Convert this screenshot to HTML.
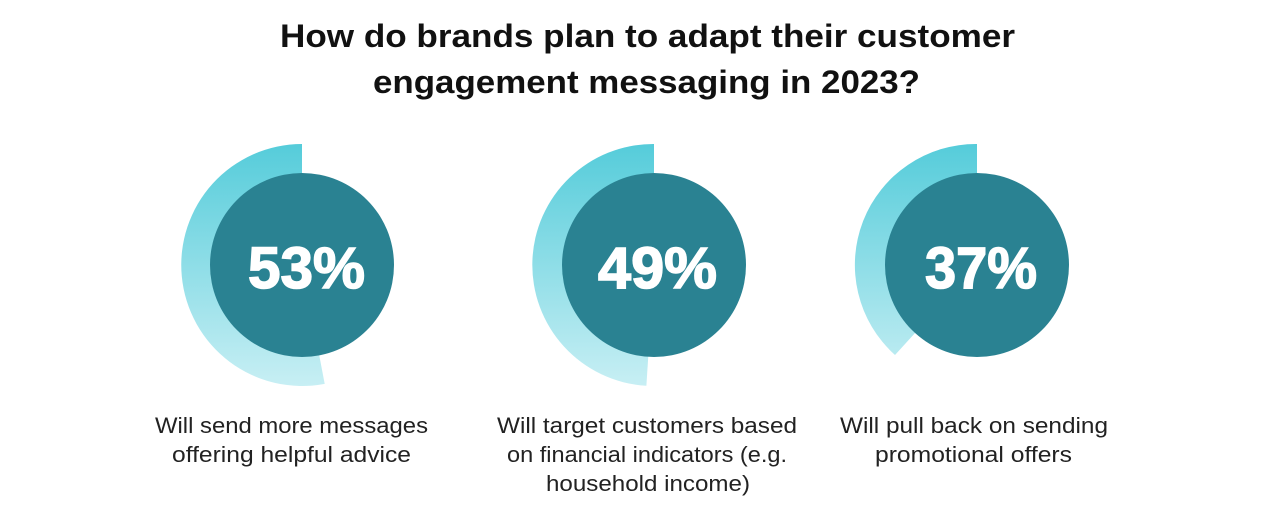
<!DOCTYPE html>
<html><head><meta charset="utf-8"><style>
body{margin:0;background:#fff;width:1285px;height:512px;overflow:hidden;font-family:"Liberation Sans",sans-serif}
</style></head><body>
<svg width="1285" height="512" xmlns="http://www.w3.org/2000/svg">
<defs>
<linearGradient id="g" x1="0" y1="144" x2="0" y2="387" gradientUnits="userSpaceOnUse">
<stop offset="0" stop-color="#55ccda"/><stop offset="1" stop-color="#c8eff4"/>
</linearGradient>
</defs>
<g font-family="Liberation Sans, sans-serif" font-weight="bold" font-size="32" fill="#111">
<text x="280" y="47" textLength="735" lengthAdjust="spacingAndGlyphs">How do brands plan to adapt their customer</text>
<text x="373" y="93" textLength="547" lengthAdjust="spacingAndGlyphs">engagement messaging in 2023?</text>
</g>
<path d="M302,265 L302,144 A121,121 0 1 0 324.7,383.9 Z" fill="url(#g)"/>
<circle cx="302" cy="265" r="92" fill="#2a8292"/>
<path d="M654,265 L654,144 A121,121 0 0 0 646.4,385.8 Z" fill="url(#g)"/>
<circle cx="654" cy="265" r="92" fill="#2a8292"/>
<path d="M977,265 L977,144 A121,121 0 0 0 895,355 Z" fill="url(#g)"/>
<circle cx="977" cy="265" r="92" fill="#2a8292"/>
<g font-family="Liberation Sans, sans-serif" font-weight="bold" font-size="58" fill="#fff" stroke="#fff" stroke-width="1.5">
<text x="248" y="288" textLength="117" lengthAdjust="spacingAndGlyphs">53%</text>
<text x="598" y="288" textLength="119" lengthAdjust="spacingAndGlyphs">49%</text>
<text x="925" y="288" textLength="112" lengthAdjust="spacingAndGlyphs">37%</text>
</g>
<g font-family="Liberation Sans, sans-serif" font-size="22" fill="#222" lengthAdjust="spacingAndGlyphs">
<text x="155" y="433" textLength="273" lengthAdjust="spacingAndGlyphs">Will send more messages</text>
<text x="172" y="462" textLength="239" lengthAdjust="spacingAndGlyphs">offering helpful advice</text>
<text x="497" y="433" textLength="300" lengthAdjust="spacingAndGlyphs">Will target customers based</text>
<text x="507" y="462" textLength="280" lengthAdjust="spacingAndGlyphs">on financial indicators (e.g.</text>
<text x="546" y="491" textLength="204" lengthAdjust="spacingAndGlyphs">household income)</text>
<text x="840" y="433" textLength="268" lengthAdjust="spacingAndGlyphs">Will pull back on sending</text>
<text x="875" y="462" textLength="197" lengthAdjust="spacingAndGlyphs">promotional offers</text>
</g>
</svg>
</body></html>
